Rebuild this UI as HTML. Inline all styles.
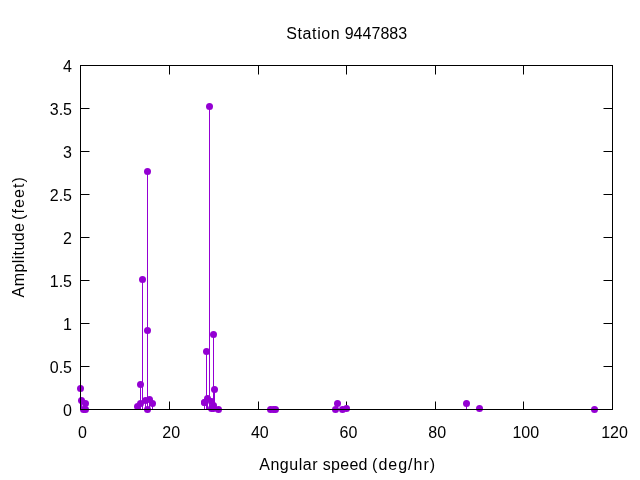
<!DOCTYPE html>
<html lang="en">
<head>
<meta charset="utf-8">
<title>Station 9447883</title>
<style>
html,body{margin:0;padding:0;background:#fff;}
body{width:640px;height:480px;overflow:hidden;}
svg{display:block;}
text{font-family:"Liberation Sans",sans-serif;font-size:16px;fill:#000;}
</style>
</head>
<body>
<svg width="640" height="480" viewBox="0 0 640 480">
<rect x="0" y="0" width="640" height="480" fill="#ffffff"/>
<g stroke="#000" stroke-width="1" fill="none">
<line x1="80.5" y1="366.5" x2="89.5" y2="366.5"/>
<line x1="612.5" y1="366.5" x2="603.5" y2="366.5"/>
<line x1="80.5" y1="323.5" x2="89.5" y2="323.5"/>
<line x1="612.5" y1="323.5" x2="603.5" y2="323.5"/>
<line x1="80.5" y1="280.5" x2="89.5" y2="280.5"/>
<line x1="612.5" y1="280.5" x2="603.5" y2="280.5"/>
<line x1="80.5" y1="237.5" x2="89.5" y2="237.5"/>
<line x1="612.5" y1="237.5" x2="603.5" y2="237.5"/>
<line x1="80.5" y1="194.5" x2="89.5" y2="194.5"/>
<line x1="612.5" y1="194.5" x2="603.5" y2="194.5"/>
<line x1="80.5" y1="151.5" x2="89.5" y2="151.5"/>
<line x1="612.5" y1="151.5" x2="603.5" y2="151.5"/>
<line x1="80.5" y1="108.5" x2="89.5" y2="108.5"/>
<line x1="612.5" y1="108.5" x2="603.5" y2="108.5"/>
<line x1="169.5" y1="409.5" x2="169.5" y2="401.5"/>
<line x1="169.5" y1="65.5" x2="169.5" y2="74.5"/>
<line x1="258.5" y1="409.5" x2="258.5" y2="401.5"/>
<line x1="258.5" y1="65.5" x2="258.5" y2="74.5"/>
<line x1="346.5" y1="409.5" x2="346.5" y2="401.5"/>
<line x1="346.5" y1="65.5" x2="346.5" y2="74.5"/>
<line x1="435.5" y1="409.5" x2="435.5" y2="401.5"/>
<line x1="435.5" y1="65.5" x2="435.5" y2="74.5"/>
<line x1="523.5" y1="409.5" x2="523.5" y2="401.5"/>
<line x1="523.5" y1="65.5" x2="523.5" y2="74.5"/>
</g>
<g stroke="#9400d3" stroke-width="1" fill="none">
<line x1="209.5" y1="409.5" x2="209.5" y2="106.5"/>
<line x1="213.5" y1="409.5" x2="213.5" y2="334.5"/>
<line x1="206.5" y1="409.5" x2="206.5" y2="351.5"/>
<line x1="147.5" y1="409.5" x2="147.5" y2="171.5"/>
<line x1="337.5" y1="409.5" x2="337.5" y2="403.5"/>
<line x1="142.5" y1="409.5" x2="142.5" y2="279.5"/>
<line x1="466.5" y1="409.5" x2="466.5" y2="403.5"/>
<line x1="346.5" y1="409.5" x2="346.5" y2="408.5"/>
<line x1="335.5" y1="409.5" x2="335.5" y2="409.5"/>
<line x1="207.5" y1="409.5" x2="207.5" y2="398.5"/>
<line x1="479.5" y1="409.5" x2="479.5" y2="408.5"/>
<line x1="204.5" y1="409.5" x2="204.5" y2="402.5"/>
<line x1="204.5" y1="409.5" x2="204.5" y2="402.5"/>
<line x1="152.5" y1="409.5" x2="152.5" y2="403.5"/>
<line x1="211.5" y1="409.5" x2="211.5" y2="408.5"/>
<line x1="145.5" y1="409.5" x2="145.5" y2="400.5"/>
<line x1="149.5" y1="409.5" x2="149.5" y2="399.5"/>
<line x1="81.5" y1="409.5" x2="81.5" y2="400.5"/>
<line x1="80.5" y1="409.5" x2="80.5" y2="388.5"/>
<line x1="85.5" y1="409.5" x2="85.5" y2="403.5"/>
<line x1="140.5" y1="409.5" x2="140.5" y2="403.5"/>
<line x1="140.5" y1="409.5" x2="140.5" y2="384.5"/>
<line x1="213.5" y1="409.5" x2="213.5" y2="405.5"/>
<line x1="213.5" y1="409.5" x2="213.5" y2="408.5"/>
<line x1="137.5" y1="409.5" x2="137.5" y2="406.5"/>
<line x1="147.5" y1="409.5" x2="147.5" y2="330.5"/>
<line x1="211.5" y1="409.5" x2="211.5" y2="401.5"/>
<line x1="214.5" y1="409.5" x2="214.5" y2="389.5"/>
</g>
<g fill="#9400d3" stroke="none">
<circle cx="209.5" cy="106.5" r="3.5"/>
<circle cx="213.5" cy="334.5" r="3.5"/>
<circle cx="206.5" cy="351.5" r="3.5"/>
<circle cx="147.5" cy="171.5" r="3.5"/>
<circle cx="337.5" cy="403.5" r="3.5"/>
<circle cx="142.5" cy="279.5" r="3.5"/>
<circle cx="466.5" cy="403.5" r="3.5"/>
<circle cx="275.5" cy="409.5" r="3.5"/>
<circle cx="346.5" cy="408.5" r="3.5"/>
<circle cx="335.5" cy="409.5" r="3.5"/>
<circle cx="207.5" cy="398.5" r="3.5"/>
<circle cx="479.5" cy="408.5" r="3.5"/>
<circle cx="204.5" cy="402.5" r="3.5"/>
<circle cx="204.5" cy="402.5" r="3.5"/>
<circle cx="152.5" cy="403.5" r="3.5"/>
<circle cx="211.5" cy="408.5" r="3.5"/>
<circle cx="147.5" cy="409.5" r="3.5"/>
<circle cx="145.5" cy="400.5" r="3.5"/>
<circle cx="149.5" cy="399.5" r="3.5"/>
<circle cx="83.5" cy="409.5" r="3.5"/>
<circle cx="81.5" cy="400.5" r="3.5"/>
<circle cx="80.5" cy="388.5" r="3.5"/>
<circle cx="85.5" cy="409.5" r="3.5"/>
<circle cx="85.5" cy="403.5" r="3.5"/>
<circle cx="140.5" cy="403.5" r="3.5"/>
<circle cx="140.5" cy="384.5" r="3.5"/>
<circle cx="213.5" cy="405.5" r="3.5"/>
<circle cx="213.5" cy="408.5" r="3.5"/>
<circle cx="137.5" cy="406.5" r="3.5"/>
<circle cx="147.5" cy="330.5" r="3.5"/>
<circle cx="218.5" cy="409.5" r="3.5"/>
<circle cx="273.5" cy="409.5" r="3.5"/>
<circle cx="211.5" cy="401.5" r="3.5"/>
<circle cx="270.5" cy="409.5" r="3.5"/>
<circle cx="214.5" cy="389.5" r="3.5"/>
<circle cx="594.5" cy="409.5" r="3.5"/>
<circle cx="342.5" cy="409.5" r="3.5"/>
</g>
<g stroke="#000" stroke-width="1" fill="none" shape-rendering="crispEdges">
<rect x="80.5" y="65.5" width="532.0" height="344.0"/>
</g>
<g text-anchor="end">
<text x="72" y="415.7">0</text>
<text x="72" y="372.7">0.5</text>
<text x="72" y="329.7">1</text>
<text x="72" y="286.7">1.5</text>
<text x="72" y="243.7">2</text>
<text x="72" y="200.7">2.5</text>
<text x="72" y="157.7">3</text>
<text x="72" y="114.7">3.5</text>
<text x="72" y="71.7">4</text>
</g>
<g text-anchor="middle">
<text x="82.5" y="437.6">0</text>
<text x="171.2" y="437.6">20</text>
<text x="259.8" y="437.6">40</text>
<text x="348.5" y="437.6">60</text>
<text x="437.2" y="437.6">80</text>
<text x="525.8" y="437.6">100</text>
<text x="614.5" y="437.6">120</text>
</g>
<g>
<text y="39.1"><tspan x="286.2" style="letter-spacing:0.62px">Station</tspan> <tspan x="344.7" style="letter-spacing:0.03px">9447883</tspan></text>
<text y="470"><tspan x="259.2" style="letter-spacing:0.55px">Angular</tspan> <tspan x="322.8" style="letter-spacing:0.28px">speed</tspan> <tspan x="372.1" style="letter-spacing:0.99px">(deg/hr)</tspan></text>
<text transform="translate(23.5,0) rotate(-90)" y="0"><tspan x="-297.4" style="letter-spacing:0.4px">Amplitude</tspan> <tspan x="-219.9" style="letter-spacing:1.08px">(feet)</tspan></text>
</g>
</svg>
</body>
</html>
